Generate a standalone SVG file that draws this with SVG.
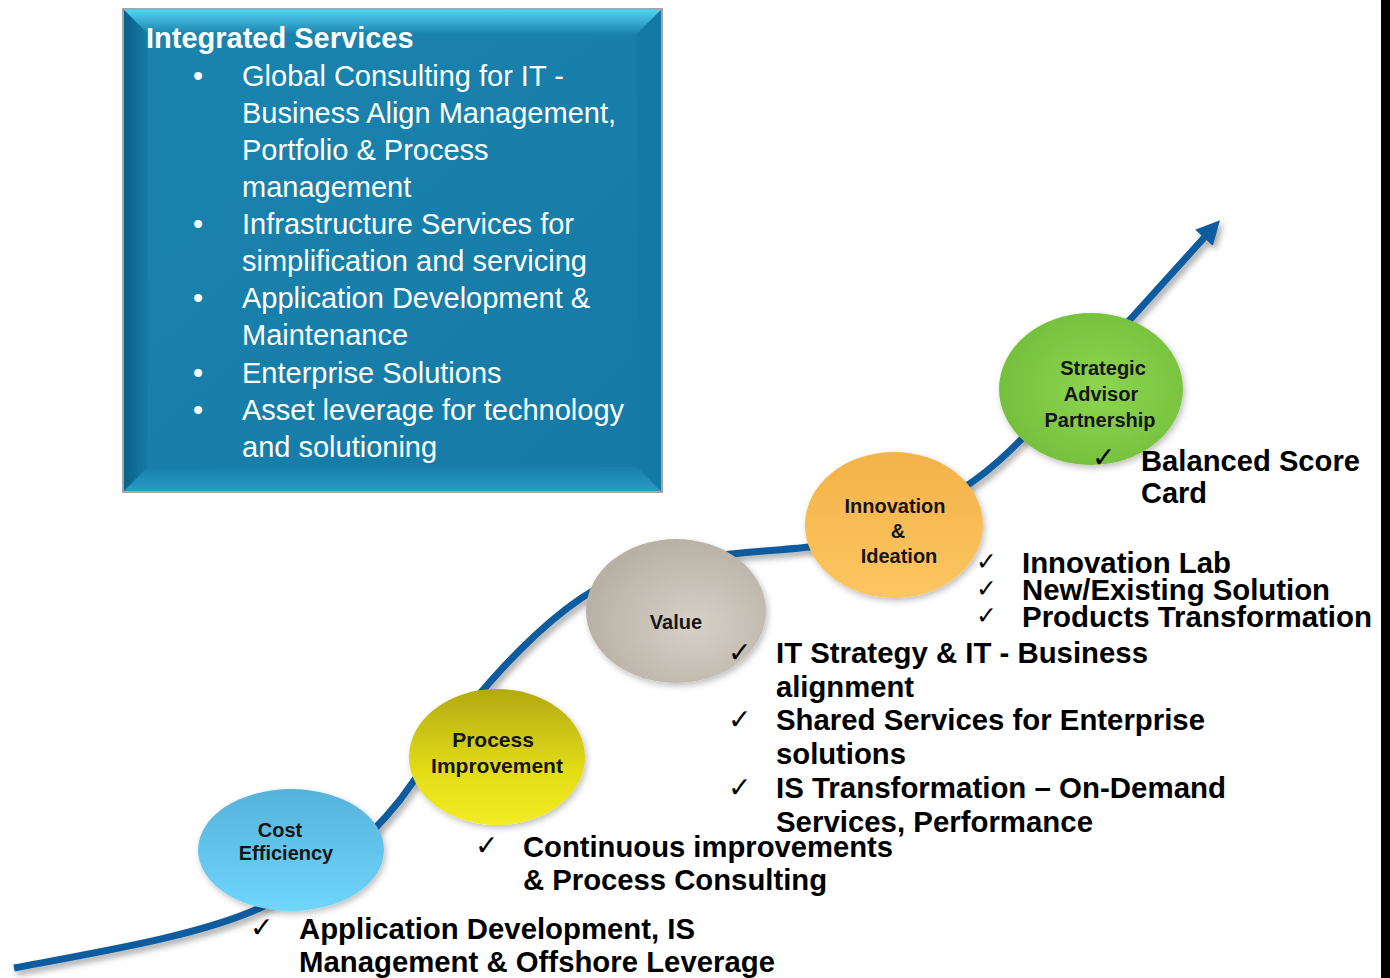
<svg xmlns="http://www.w3.org/2000/svg" width="1390" height="978" viewBox="0 0 1390 978">
<defs>
<style>
.box{font-family:"Liberation Sans",Arial,sans-serif;font-size:29px;fill:#ffffff}
.boxt{font-family:"Liberation Sans",Arial,sans-serif;font-size:29px;font-weight:bold;fill:#ffffff}
.nt{font-family:"Liberation Sans",Arial,sans-serif;font-size:20px;font-weight:bold;fill:#151515;text-anchor:middle}
.ck{font-family:"DejaVu Sans",sans-serif;font-size:28px;fill:#000}
.cks{font-family:"DejaVu Sans",sans-serif;font-size:25px;fill:#000}
.lt{font-family:"Liberation Sans",Arial,sans-serif;font-size:30px;font-weight:bold;fill:#000}
</style>
<filter id="sh" x="-20%" y="-20%" width="140%" height="140%">
<feDropShadow dx="3" dy="4" stdDeviation="3" flood-color="#000" flood-opacity="0.35"/>
</filter>
<filter id="esh" x="-20%" y="-20%" width="140%" height="140%">
<feDropShadow dx="2" dy="3" stdDeviation="3" flood-color="#000" flood-opacity="0.25"/>
</filter>
<marker id="ah" viewBox="0 0 10 10" refX="5" refY="5" markerWidth="3.4" markerHeight="3.4" orient="auto" markerUnits="strokeWidth">
<path d="M0,0 L10,5 L0,10 Z" fill="#0b5b9f"/>
</marker>
<linearGradient id="gTop" x1="0" y1="0" x2="0" y2="1"><stop offset="0" stop-color="#5ad3f8"/><stop offset="1" stop-color="#1883ae"/></linearGradient>
<linearGradient id="gLeft" x1="0" y1="0" x2="1" y2="0"><stop offset="0" stop-color="#0b5f86"/><stop offset="1" stop-color="#157ca7"/></linearGradient>
<linearGradient id="gBot" x1="0" y1="0" x2="0" y2="1"><stop offset="0" stop-color="#177fab"/><stop offset="1" stop-color="#2b9cc8"/></linearGradient>
<linearGradient id="gMid" x1="0" y1="0" x2="1" y2="1"><stop offset="0" stop-color="#1a84af"/><stop offset="1" stop-color="#157aa5"/></linearGradient>
<linearGradient id="gCost" x1="0" y1="0" x2="0" y2="1"><stop offset="0" stop-color="#56b2da"/><stop offset="1" stop-color="#6fd6fc"/></linearGradient>
<linearGradient id="gProc" x1="0" y1="0" x2="0" y2="1"><stop offset="0" stop-color="#b2aa10"/><stop offset="0.6" stop-color="#e3dc18"/><stop offset="1" stop-color="#f3ec22"/></linearGradient>
<radialGradient id="gVal" cx="0.6" cy="0.6" r="0.6"><stop offset="0" stop-color="#d6d0c6"/><stop offset="1" stop-color="#b8b1a6"/></radialGradient>
<linearGradient id="gInn" x1="0" y1="0" x2="0" y2="1"><stop offset="0" stop-color="#f4b24a"/><stop offset="1" stop-color="#fcc660"/></linearGradient>
<radialGradient id="gStr" cx="0.55" cy="0.5" r="0.6"><stop offset="0" stop-color="#8ed54f"/><stop offset="1" stop-color="#72bf3c"/></radialGradient>
</defs>
<rect x="0" y="0" width="1390" height="978" fill="#ffffff"/>
<rect x="1381" y="0" width="9" height="978" fill="#000000"/>

<g id="services-box">
<rect x="123" y="9" width="539" height="483" fill="url(#gMid)"/>
<polygon points="123,9 662,9 637,34 148,34" fill="url(#gTop)"/>
<polygon points="123,9 148,34 148,467 123,492" fill="url(#gLeft)"/>
<polygon points="662,9 662,492 637,467 637,34" fill="#137aa5"/>
<polygon points="123,492 662,492 637,467 148,467" fill="url(#gBot)"/>
<rect x="123" y="9" width="539" height="483" fill="none" stroke="#a6a6a6" stroke-width="2"/>
<text class="boxt" x="146" y="48">Integrated Services</text>
<g class="box">
<text x="193" y="86">•</text>
<text x="242" y="86">Global Consulting for IT -</text>
<text x="242" y="123">Business Align Management,</text>
<text x="242" y="160">Portfolio &amp; Process</text>
<text x="242" y="197">management</text>
<text x="193" y="234">•</text>
<text x="242" y="234">Infrastructure Services for</text>
<text x="242" y="271">simplification and servicing</text>
<text x="193" y="308">•</text>
<text x="242" y="308">Application Development &amp;</text>
<text x="242" y="345">Maintenance</text>
<text x="193" y="383">•</text>
<text x="242" y="383">Enterprise Solutions</text>
<text x="193" y="420">•</text>
<text x="242" y="420">Asset leverage for technology</text>
<text x="242" y="457">and solutioning</text>
</g>
</g>

<g id="connectors">
<path d="M14,968 C110,950 200,935 260,908 C320,880 360,850 400,800 C440,745 470,700 520,650 C560,610 600,580 650,565 C690,556 760,552 810,547 C870,540 920,520 975,480 C1010,455 1040,420 1080,375 L1212,229" fill="none" stroke="#0b5b9f" stroke-width="7" filter="url(#sh)" marker-end="url(#ah)"/>
</g>

<g id="node-cost">
<ellipse cx="291" cy="850" rx="93" ry="61" fill="url(#gCost)" filter="url(#esh)"/>
<text class="nt" x="280" y="837">Cost</text>
<text class="nt" x="286" y="860">Efficiency</text>
</g>
<g id="node-process">
<ellipse cx="497" cy="757" rx="88" ry="68" fill="url(#gProc)" filter="url(#esh)"/>
<text class="nt" x="493" y="747" style="font-size:21px">Process</text>
<text class="nt" x="497" y="773" style="font-size:21px">Improvement</text>
</g>
<g id="node-value">
<ellipse cx="676" cy="611" rx="90" ry="72" fill="url(#gVal)" filter="url(#esh)"/>
<text class="nt" x="676" y="629">Value</text>
</g>
<g id="node-innovation">
<ellipse cx="894" cy="525" rx="89" ry="73" fill="url(#gInn)" filter="url(#esh)"/>
<text class="nt" x="895" y="513">Innovation</text>
<text class="nt" x="898" y="538">&amp;</text>
<text class="nt" x="899" y="563">Ideation</text>
</g>
<g id="node-strategic">
<ellipse cx="1091" cy="389" rx="92" ry="76" fill="url(#gStr)" filter="url(#esh)"/>
<text class="nt" x="1103" y="375">Strategic</text>
<text class="nt" x="1101" y="401">Advisor</text>
<text class="nt" x="1100" y="427">Partnership</text>
</g>

<g id="labels-strategic">
<text class="ck" x="1092" y="467">✓</text>
<text class="lt" x="1141" y="471" textLength="219" lengthAdjust="spacingAndGlyphs">Balanced Score</text>
<text class="lt" x="1141" y="503" textLength="66" lengthAdjust="spacingAndGlyphs">Card</text>
</g>
<g id="labels-innovation">
<text class="cks" x="976" y="570">✓</text>
<text class="cks" x="976" y="597">✓</text>
<text class="cks" x="976" y="624">✓</text>
<text class="lt" x="1022" y="573" textLength="209" lengthAdjust="spacingAndGlyphs">Innovation Lab</text>
<text class="lt" x="1022" y="600" textLength="308" lengthAdjust="spacingAndGlyphs">New/Existing Solution</text>
<text class="lt" x="1022" y="627" textLength="350" lengthAdjust="spacingAndGlyphs">Products Transformation</text>
</g>
<g id="labels-value">
<text class="ck" x="728" y="662" style="font-weight:bold">✓</text>
<text class="ck" x="728" y="729">✓</text>
<text class="ck" x="728" y="797">✓</text>
<text class="lt" x="776" y="663" textLength="372" lengthAdjust="spacingAndGlyphs">IT Strategy &amp; IT - Business</text>
<text class="lt" x="776" y="697" textLength="138" lengthAdjust="spacingAndGlyphs">alignment</text>
<text class="lt" x="776" y="730" textLength="429" lengthAdjust="spacingAndGlyphs">Shared Services for Enterprise</text>
<text class="lt" x="776" y="764" textLength="130" lengthAdjust="spacingAndGlyphs">solutions</text>
<text class="lt" x="776" y="798" textLength="450" lengthAdjust="spacingAndGlyphs">IS Transformation – On-Demand</text>
<text class="lt" x="776" y="832" textLength="317" lengthAdjust="spacingAndGlyphs">Services, Performance</text>
</g>
<g id="labels-process">
<text class="ck" x="475" y="855">✓</text>
<text class="lt" x="523" y="857" textLength="370" lengthAdjust="spacingAndGlyphs">Continuous improvements</text>
<text class="lt" x="523" y="890" textLength="304" lengthAdjust="spacingAndGlyphs">&amp; Process Consulting</text>
</g>
<g id="labels-cost">
<text class="ck" x="250" y="937">✓</text>
<text class="lt" x="299" y="939" textLength="396" lengthAdjust="spacingAndGlyphs">Application Development, IS</text>
<text class="lt" x="299" y="972" textLength="476" lengthAdjust="spacingAndGlyphs">Management &amp; Offshore Leverage</text>
</g>
</svg>
